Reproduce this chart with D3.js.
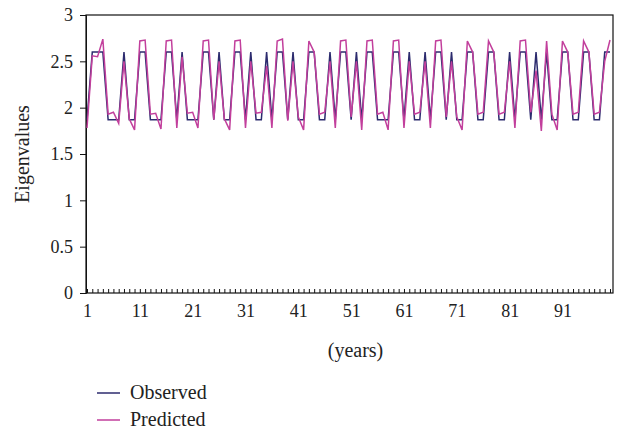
<!DOCTYPE html>
<html><head><meta charset="utf-8">
<script src="https://cdn.jsdelivr.net/npm/d3@7"></script>
<style>body{margin:0;background:#fff}svg{display:block}text{font-family:"Liberation Serif","DejaVu Serif",serif;fill:#222}</style>
</head><body>
<script>
const years = d3.range(1, 101);
const observed = [1.87,2.6,2.6,2.6,1.87,1.87,1.87,2.6,1.87,1.87,
2.6,2.6,1.87,1.87,1.87,2.6,2.6,1.87,2.6,1.87,
1.87,1.87,2.6,2.6,1.87,2.6,1.87,1.87,2.6,2.6,
1.87,2.6,1.87,1.87,2.6,1.87,2.6,2.6,1.87,2.6,
1.87,1.87,2.6,2.6,1.87,1.87,2.6,1.87,2.6,2.6,
1.87,2.6,1.87,2.6,2.6,1.87,1.87,1.87,2.6,2.6,
1.87,2.6,1.87,1.87,2.6,1.87,2.6,2.6,1.87,2.6,
1.87,1.87,2.6,2.6,1.87,1.87,2.6,2.6,1.87,1.87,
2.6,1.87,2.6,2.6,1.87,2.6,1.87,2.6,1.87,1.87,
2.6,2.6,1.87,1.87,2.6,2.6,1.87,1.87,2.6,2.6];
const predicted = [1.78,2.56,2.55,2.74,1.93,1.95,1.83,2.5,1.88,1.76,
2.72,2.73,1.93,1.94,1.77,2.72,2.73,1.78,2.55,1.94,
1.95,1.78,2.72,2.73,1.87,2.5,1.88,1.76,2.72,2.73,
1.78,2.5,1.94,1.95,2.45,1.78,2.72,2.74,1.86,2.5,
1.9,1.76,2.72,2.6,1.93,1.95,2.5,1.78,2.72,2.73,
1.9,2.5,1.76,2.72,2.73,1.93,1.95,1.76,2.72,2.73,
1.78,2.5,1.93,1.95,2.5,1.78,2.72,2.73,1.9,2.5,
1.9,1.76,2.72,2.6,1.93,1.95,2.72,2.6,1.93,1.95,
2.5,1.78,2.72,2.73,1.95,2.4,1.75,2.72,1.93,1.76,
2.72,2.6,1.93,1.95,2.72,2.6,1.93,1.95,2.5,2.73];
const yTicks = [0,0.5,1,1.5,2,2.5,3];
const xTickLabels = [1,11,21,31,41,51,61,71,81,91];
const seriesNames = ["Observed","Predicted"];
const colors = ["#2c2b6e","#c23f9c"];

const W = 621, H = 432;
const m = {left:86, right:8, top:15, bottom:139};
const svg = d3.select("body").append("svg").attr("width",W).attr("height",H);
const x = d3.scaleLinear().domain([1,100]).range([m.left+1, W-m.right-3]);
const y = d3.scaleLinear().domain([0,3]).range([H-m.bottom, m.top]);
const x0 = m.left, x1 = W-m.right, y0 = H-m.bottom, y1 = m.top;
const tickFont = "18px", labelFont = "20px";

svg.append("rect").attr("x",x0).attr("y",y1).attr("width",x1-x0).attr("height",y0-y1)
  .attr("fill","none").attr("stroke","#111").attr("stroke-width",1.2);

const ya = svg.append("g").attr("transform",`translate(${x0},0)`)
  .call(d3.axisLeft(y).tickValues(yTicks).tickFormat(d3.format("")).tickSize(6).tickPadding(7));
ya.select(".domain").attr("stroke","#111");
ya.selectAll("line").attr("stroke","#111");
ya.selectAll("text").style("font-size",tickFont).style("font-family","Liberation Serif").attr("fill","#222");

const xa = svg.append("g").attr("transform",`translate(0,${y0})`)
  .call(d3.axisTop(x).tickValues(years).tickSize(4).tickFormat(""));
xa.select(".domain").remove();
xa.selectAll("line").attr("stroke","#111");
const xl = svg.append("g").attr("transform",`translate(0,${y0})`)
  .call(d3.axisBottom(x).tickValues(xTickLabels).tickSize(0).tickPadding(11).tickFormat(d3.format("d")));
xl.select(".domain").remove();
xl.selectAll("text").style("font-size",tickFont).style("font-family","Liberation Serif").attr("fill","#222");

svg.append("text").attr("x",(x0+x1)/2 + 6).attr("y",357).attr("text-anchor","middle")
  .style("font-size",labelFont).text("(years)");
svg.append("text").attr("transform",`translate(29,${(y0+y1)/2}) rotate(-90)`).attr("text-anchor","middle")
  .style("font-size",labelFont).text("Eigenvalues");

const line = d3.line().x((d,i)=>x(years[i])).y(d=>y(d));
[observed, predicted].forEach((s,k)=>{
  svg.append("path").datum(s).attr("d",line).attr("fill","none")
    .attr("stroke",colors[k]).attr("stroke-width",1.5).attr("stroke-linejoin","miter");
});

const lg = svg.append("g");
seriesNames.forEach((n,k)=>{
  const yy = 393 + k*27;
  lg.append("line").attr("x1",97).attr("x2",120).attr("y1",yy).attr("y2",yy)
    .attr("stroke",colors[k]).attr("stroke-width",1.5);
  lg.append("text").attr("x",130).attr("y",yy+6).style("font-size",labelFont).text(n);
});
</script>
</body></html>
